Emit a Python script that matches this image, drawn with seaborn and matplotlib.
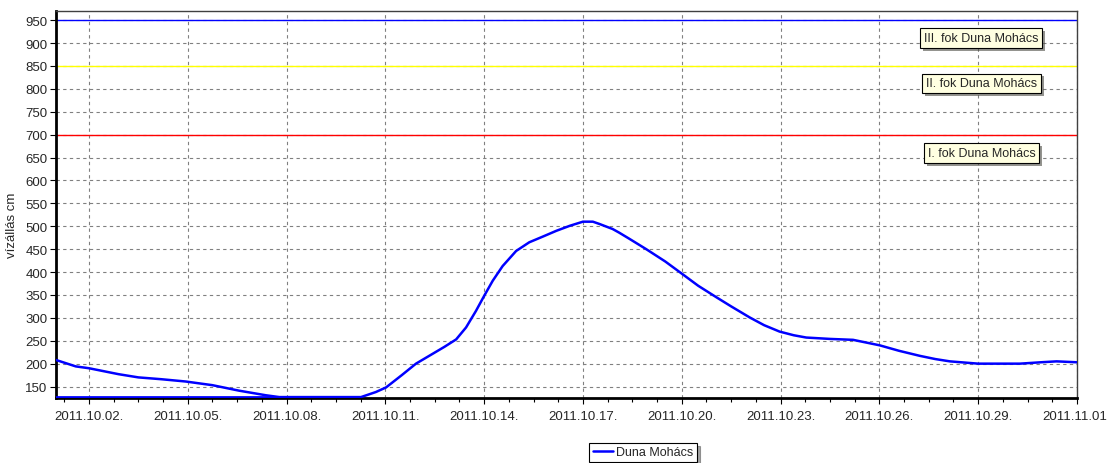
import pandas as pd
import seaborn as sns
import matplotlib.pyplot as plt
import matplotlib.dates as mdates
import matplotlib.patheffects as pe
from matplotlib.ticker import AutoMinorLocator

# vízállás adatok (napok 2011.10.01. 00:00-tól, cm)
days = [0, 0.6, 1.0, 1.9, 2.5, 3.2, 3.94, 4.75, 5.56, 6.37, 6.78, 9.26, 9.71,
        10.02, 10.5, 10.93, 11.33, 11.8, 12.15, 12.45, 12.75, 13.0, 13.26,
        13.56, 13.97, 14.37, 14.8, 15.19, 15.6, 16.0, 16.3, 16.5, 16.9, 17.1,
        17.4, 17.92, 18.5, 19.03, 19.5, 20.05, 20.5, 21.06, 21.5, 21.97, 22.4,
        22.78, 23.5, 24.2, 25.01, 25.6, 26.23, 26.7, 27.14, 28.0, 29.27, 29.9,
        30.38, 31.0]
levels = [208, 194, 190, 177, 170, 166, 161, 153, 141, 131, 127, 127, 138,
          148, 175, 200, 217, 237, 253, 279, 315, 348, 381,
          413, 446, 465, 478, 490, 501, 510, 510, 505, 494, 486,
          473, 450, 423, 395, 370, 345, 325, 301, 284, 270, 262,
          257, 254, 252, 240, 228, 217, 210, 205, 200, 200, 203,
          205, 203]
# alsó vízszintes szakasz
base_days = [0, 6.78]
base_levels = [127, 127]

# vízszintes fokozatok
thresholds = [950, 850, 700]
threshold_colors = ['#0000ff', '#ffff00', '#ff0000']
threshold_labels = ['III. fok Duna Mohács', 'II. fok Duna Mohács', 'I. fok Duna Mohács']
label_levels = [911, 812, 660]

start = pd.Timestamp('2011-10-01')
df = pd.DataFrame({'ido': start + pd.to_timedelta(days, unit='D'), 'vizallas': levels})
base = pd.DataFrame({'ido': start + pd.to_timedelta(base_days, unit='D'), 'vizallas': base_levels})

sns.set_theme(style='white')
plt.rcParams['font.family'] = ['Liberation Sans', 'DejaVu Sans']

fig = plt.figure(figsize=(11.07, 4.64), dpi=100)
ax = fig.add_axes([56 / 1107, 1 - 399 / 464, (1077 - 56) / 1107, (399 - 12) / 464])

for y, c in zip(thresholds, threshold_colors):
    ax.axhline(y, color=c, lw=1.0, zorder=2)

sns.lineplot(data=base, x='ido', y='vizallas', color='#0000ff', lw=2, ax=ax, zorder=3)
sns.lineplot(data=df, x='ido', y='vizallas', color='#0000ff', lw=1.8, ax=ax, zorder=3,
             label='Duna Mohács')

lab_x = start + pd.Timedelta(days=28.1)
for y, t in zip(label_levels, threshold_labels):
    txt = ax.text(lab_x, y, t, ha='center', va='center', fontsize=9, zorder=5,
                  bbox=dict(boxstyle='square,pad=0.3', fc='#ffffe1', ec='black', lw=0.8))
    txt.get_bbox_patch().set_path_effects([pe.SimplePatchShadow(offset=(2, -2), alpha=0.6),
                                           pe.Normal()])

ax.set_xlim(start, pd.Timestamp('2011-11-01'))
ax.set_ylim(125, 970)
ax.set_yticks(range(150, 951, 50))
ax.set_xticks(pd.date_range('2011-10-02', periods=11, freq='3D'))
ax.xaxis.set_major_formatter(mdates.DateFormatter('%Y.%m.%d.'))
ax.xaxis.set_minor_locator(AutoMinorLocator(4))

ax.grid(True, which='major', color='#808080', linestyle=(0, (3, 3)), lw=0.8)
ax.tick_params(axis='both', which='major', labelsize=9.5, length=4, width=0.8,
               color='black', direction='out', bottom=True, left=True, pad=2)
ax.tick_params(axis='x', which='minor', length=3, width=0.8, color='black', bottom=True)
ax.tick_params(axis='x', which='major', pad=5)

for s in ['left', 'bottom']:
    ax.spines[s].set_color('black')
    ax.spines[s].set_linewidth(2)
for s in ['top', 'right']:
    ax.spines[s].set_color('#404040')
    ax.spines[s].set_linewidth(1)

ax.set_xlabel('')
ax.set_ylabel('vízállás cm', fontsize=9.5)
ax.yaxis.set_label_coords(-0.037, 0.45)

ax.legend(loc='center', bbox_to_anchor=(643 / 1107, 10.5 / 464), bbox_transform=fig.transFigure,
          fontsize=9, frameon=True, fancybox=False, shadow=True, edgecolor='black',
          handlelength=1.6, handletextpad=0.3, borderpad=0.3, borderaxespad=0)
leg = ax.get_legend()
leg.get_frame().set_linewidth(0.8)

plt.savefig('out.png', dpi=100)
